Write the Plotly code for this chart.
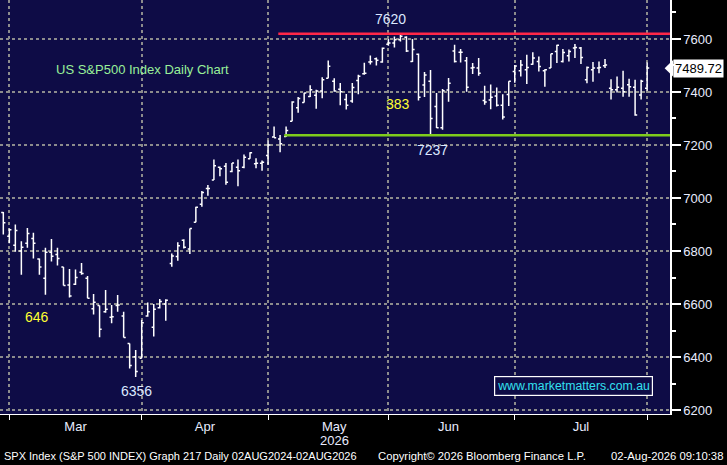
import plotly.graph_objects as go

# daily OHLC bars, one per trading day (index 0 = last day of Feb)
opens = [6945, 6856, 6822, 6800, 6829, 6847, 6770, 6697, 6795, 6787,
         6740, 6672, 6675, 6720, 6697, 6582, 6594, 6571, 6550, 6594,
         6555, 6451, 6401, 6395, 6555, 6512, 6586, 6600, 6753, 6779,
         6841, 6808, 6908, 6976, 7036, 7068, 7116, 7120, 7100, 7116,
         7116, 7148, 7129, 7131, 7160, 7230, 7223, 7232, 7290, 7340,
         7360, 7383, 7388, 7404, 7452, 7440, 7410, 7372, 7366, 7443,
         7469, 7513, 7525, 7513, 7580, 7585, 7597, 7606, 7515, 7542,
         7426, 7440, 7345, 7265, 7407, 7555, 7550, 7518, 7490, 7490,
         7368, 7370, 7385, 7350, 7390, 7477, 7480, 7484, 7505, 7515,
         7480, 7490, 7553, 7515, 7537, 7566, 7566, 7446, 7484, 7490,
         7499, 7414, 7408, 7414, 7427, 7418, 7389, 7414]
highs = [6947, 6885, 6900, 6837, 6887, 6869, 6772, 6812, 6845, 6812,
         6740, 6732, 6730, 6755, 6706, 6638, 6594, 6653, 6596, 6634,
         6571, 6451, 6426, 6540, 6606, 6600, 6619, 6618, 6791, 6833,
         6844, 6885, 6967, 7026, 7049, 7145, 7119, 7132, 7132, 7145,
         7164, 7173, 7150, 7141, 7217, 7270, 7238, 7270, 7365, 7381,
         7397, 7425, 7408, 7456, 7519, 7452, 7434, 7392, 7434, 7465,
         7510, 7538, 7530, 7568, 7600, 7609, 7617, 7610, 7600, 7545,
         7475, 7483, 7396, 7411, 7453, 7578, 7562, 7532, 7509, 7528,
         7423, 7428, 7417, 7391, 7440, 7502, 7521, 7540, 7550, 7534,
         7486, 7544, 7578, 7562, 7560, 7581, 7570, 7496, 7513, 7515,
         7524, 7448, 7458, 7480, 7450, 7446, 7446, 7511]
lows = [6862, 6829, 6797, 6710, 6812, 6772, 6710, 6635, 6760, 6745,
        6670, 6625, 6672, 6710, 6622, 6560, 6475, 6567, 6527, 6571,
        6474, 6357, 6325, 6395, 6552, 6477, 6583, 6537, 6741, 6763,
        6809, 6789, 6908, 6967, 7008, 7068, 7082, 7050, 7097, 7044,
        7112, 7148, 7112, 7103, 7125, 7227, 7173, 7230, 7290, 7322,
        7360, 7381, 7337, 7376, 7452, 7401, 7350, 7334, 7359, 7391,
        7465, 7504, 7500, 7510, 7574, 7568, 7590, 7551, 7513, 7368,
        7381, 7237, 7264, 7257, 7363, 7511, 7511, 7401, 7468, 7461,
        7352, 7335, 7345, 7296, 7347, 7435, 7458, 7430, 7503, 7477,
        7420, 7490, 7509, 7511, 7515, 7528, 7506, 7433, 7439, 7471,
        7490, 7372, 7398, 7382, 7382, 7310, 7372, 7405]
closes = [6907, 6880, 6877, 6814, 6866, 6829, 6740, 6795, 6780, 6772,
          6670, 6630, 6700, 6715, 6622, 6607, 6505, 6580, 6552, 6596,
          6474, 6368, 6345, 6529, 6571, 6580, 6609, 6614, 6781, 6820,
          6814, 6885, 6965, 7021, 7036, 7122, 7110, 7059, 7132, 7103,
          7154, 7171, 7131, 7135, 7200, 7227, 7205, 7255, 7362, 7375,
          7396, 7408, 7404, 7446, 7497, 7404, 7401, 7350, 7417, 7459,
          7471, 7514, 7520, 7565, 7585, 7597, 7610, 7555, 7560, 7380,
          7464, 7300, 7265, 7405, 7433, 7515, 7550, 7418, 7492, 7471,
          7362, 7380, 7350, 7306, 7440, 7498, 7502, 7492, 7528, 7496,
          7484, 7544, 7576, 7549, 7553, 7568, 7530, 7492, 7490, 7492,
          7502, 7408, 7418, 7401, 7420, 7313, 7440, 7490]
last_price = 7489.72

# month boundaries (bar index of first trading day) and label positions
month_starts = [1, 23, 44, 64, 85, 107]
month_label_pos = [12, 33.5, 55, 74, 96]
month_labels = ["Mar", "Apr", "May", "Jun", "Jul"]
year_label = "2026"
year_label_pos = 55

y_ticks = [6200, 6400, 6600, 6800, 7000, 7200, 7400, 7600]

resistance = 7620
support = 7237
level_start = 46

x_range = [-0.55, 110.8]
y_range = [6185, 7747]

font_family = "Liberation Sans, Arial, sans-serif"

x = list(range(len(opens)))

fig = go.Figure()

fig.add_trace(go.Ohlc(
    x=x, open=opens, high=highs, low=lows, close=closes,
    increasing=dict(line=dict(color="white", width=1.5)),
    decreasing=dict(line=dict(color="white", width=1.5)),
    tickwidth=0.35,
    showlegend=False,
))

# resistance and support lines
fig.add_trace(go.Scatter(
    x=[level_start - 0.3, x_range[1]], y=[resistance, resistance],
    mode="lines", line=dict(color="#ff2747", width=2.5),
    showlegend=False, hoverinfo="skip",
))
fig.add_trace(go.Scatter(
    x=[level_start + 0.7, x_range[1]], y=[support, support],
    mode="lines", line=dict(color="#7fcc1c", width=2.5),
    showlegend=False, hoverinfo="skip",
))

label_font = dict(family=font_family, size=14)

annotations = [
    dict(x=64.3, y=7675, text="7620", font=dict(color="#dce8ff", **label_font)),
    dict(x=23.2, y=7483, text="US S&P500 Index Daily Chart",
         font=dict(color="#99f099", family=font_family, size=13)),
    dict(x=65.6, y=7355, text="383", font=dict(color="#ffff33", **label_font)),
    dict(x=71.3, y=7181, text="7237", font=dict(color="#dce8ff", **label_font)),
    dict(x=5.6, y=6551, text="646", font=dict(color="#ffff33", **label_font)),
    dict(x=22.2, y=6272, text="6356", font=dict(color="#dce8ff", **label_font)),
    dict(x=94.7, y=6290, text="www.marketmatters.com.au",
         font=dict(color="#33e0f0", family=font_family, size=12.3),
         bordercolor="white", borderwidth=1.2, borderpad=2, bgcolor="#0e0c46"),
]
for a in annotations:
    a.update(xref="x", yref="y", showarrow=False)

# year under the May label
annotations.append(dict(
    x=year_label_pos, y=-0.064, xref="x", yref="paper", yanchor="middle",
    text=year_label, showarrow=False,
    font=dict(color="#e8ecff", family=font_family, size=13),
))

# last price tag on the axis
annotations.append(dict(
    x=1.004, y=last_price, xref="paper", yref="y", xanchor="left",
    text=f"{last_price:.2f}", showarrow=False,
    font=dict(color="black", family=font_family, size=13),
    bgcolor="white", borderpad=1,
))

# footer
footer_font = dict(color="white", family=font_family, size=11.3)
annotations += [
    dict(x=0.003, y=-0.102, xref="paper", yref="paper", xanchor="left",
         yanchor="middle",
         text="SPX Index (S&P 500 INDEX) Graph 217 Daily 02AUG2024-02AUG2026",
         showarrow=False, font=dict(footer_font, size=11.0)),
    dict(x=0.72, y=-0.102, xref="paper", yref="paper", xanchor="center",
         yanchor="middle",
         text="Copyright\u00a9 2026 Bloomberg Finance L.P.",
         showarrow=False, font=footer_font),
    dict(x=1.082, y=-0.102, xref="paper", yref="paper", xanchor="right",
         yanchor="middle",
         text="02-Aug-2026 09:10:38", showarrow=False, font=footer_font),
]

fig.update_layout(
    width=727, height=465,
    margin=dict(l=0, r=57, t=0, b=51, autoexpand=False),
    paper_bgcolor="black",
    plot_bgcolor="#0e0c46",
    font=dict(family=font_family, color="white"),
    annotations=annotations,
    shapes=[dict(
        type="path", xref="paper", yref="y", layer="above",
        path=f"M 0.992 {last_price} L 1.005 {last_price + 32} "
             f"L 1.005 {last_price - 32} Z",
        fillcolor="white", line=dict(width=0),
    )],
    xaxis=dict(
        range=x_range, automargin=False,
        rangeslider=dict(visible=False),
        tickmode="array", tickvals=month_label_pos, ticktext=month_labels,
        ticks="", showgrid=False, zeroline=False,
        showline=True, linecolor="white", linewidth=1,
        tickfont=dict(color="#e8ecff", size=13, family=font_family),
        minor=dict(tickmode="array", tickvals=month_starts, ticks="outside",
                   ticklen=5, tickcolor="white", tickwidth=1,
                   showgrid=True, gridcolor="#8c8c8c", gridwidth=2,
                   griddash="dot"),
        fixedrange=True,
    ),
    yaxis=dict(
        range=y_range, side="right", automargin=False,
        tickmode="array", tickvals=y_ticks,
        ticks="outside", ticklen=9, tickwidth=2, tickcolor="white",
        showgrid=True, gridcolor="#8c8c8c", gridwidth=2, griddash="dot",
        zeroline=False, showline=True, linecolor="white", linewidth=1.5,
        tickfont=dict(color="#e8ecff", size=13, family=font_family),
        minor=dict(dtick=100, ticks="outside", ticklen=4, tickcolor="white",
                   showgrid=False),
        fixedrange=True,
    ),
)

# drop the page's default body margin so the figure sits at the window corner
fig.write_html("out.html", config={"displayModeBar": False},
               post_script="document.body.style.margin='0';")
